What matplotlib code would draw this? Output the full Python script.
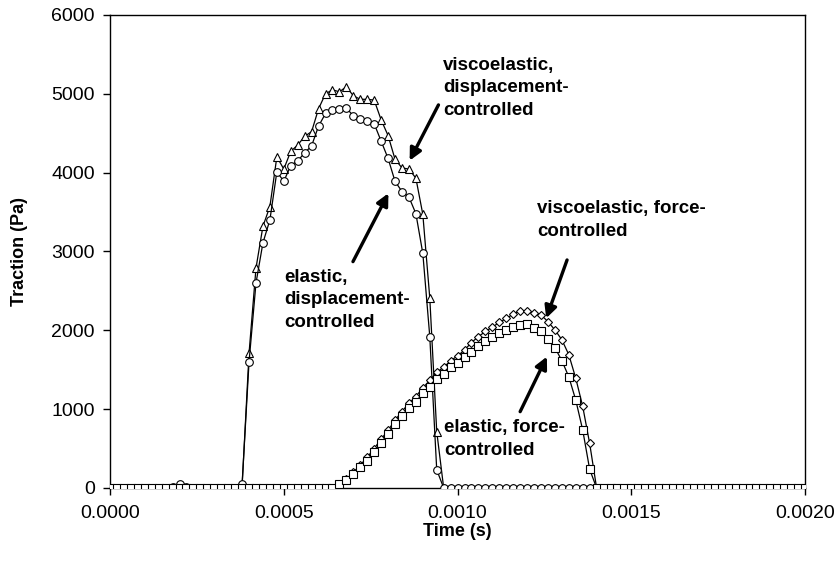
import numpy as np
import matplotlib
matplotlib.use("Agg")
import matplotlib.pyplot as plt
from matplotlib.ticker import FormatStrFormatter

plt.rcParams['font.family'] = ['Liberation Sans', 'DejaVu Sans']

# Tijdstappen van 0.00002 s (101 punten)
time = np.arange(101) * 0.00002

# elastic, displacement-controlled (cirkels)
elastic_disp = [0] * 9 + [15, 50, 15] + [0] * 7 + [
    50, 1600, 2600, 3110, 3400, 4010, 3890, 4090, 4150, 4250,
    4340, 4590, 4750, 4800, 4810, 4820, 4720, 4680, 4650, 4620,
    4400, 4180, 3890, 3760, 3690, 3480, 2975, 1920, 230] + [0] * 53

# viscoelastic, displacement-controlled (driehoeken)
visco_disp = [0] * 19 + [
    20, 1710, 2790, 3320, 3570, 4200, 4045, 4270, 4350, 4460,
    4520, 4810, 5000, 5050, 5025, 5090, 4975, 4930, 4930, 4920,
    4670, 4470, 4170, 4060, 4045, 3930, 3470, 2410, 715] + [0] * 53

# elastic, force-controlled (vierkanten)
elastic_force = [0] * 33 + [
    50, 100, 180, 260, 345, 460, 575, 685, 810, 915,
    1020, 1095, 1200, 1285, 1380, 1450, 1530, 1590, 1660, 1730,
    1795, 1860, 1920, 1970, 2005, 2040, 2070, 2075, 2035, 1985,
    1895, 1780, 1615, 1410, 1115, 735, 237] + [0] * 31

# viscoelastic, force-controlled (ruiten)
visco_force = [0] * 33 + [
    40, 110, 200, 290, 390, 500, 620, 730, 860, 970,
    1075, 1160, 1270, 1365, 1470, 1530, 1615, 1675, 1750, 1845,
    1920, 1985, 2040, 2100, 2150, 2205, 2250, 2250, 2225, 2195,
    2110, 2005, 1880, 1690, 1392, 1034, 565] + [0] * 31

fig = plt.figure(figsize=(8.36, 5.64), dpi=100)
ax = fig.add_axes([0.1316, 0.1348, 0.8315, 0.8387])

style = dict(color='black', lw=0.9, markerfacecolor='white',
             markeredgecolor='black', markeredgewidth=0.8)
ax.plot(time, visco_disp, marker='^', markersize=6, zorder=2, **style)
ax.plot(time, elastic_disp, marker='o', markersize=5.5, zorder=3, **style)
ax.plot(time, visco_force, marker='D', markersize=4.5, zorder=4, **style)
ax.plot(time, elastic_force, marker='s', markersize=5.5, zorder=5, **style)

ax.set_xlim(0, 0.002)
ax.set_ylim(0, 6000)
ax.set_xticks(np.arange(0, 0.00201, 0.0005))
ax.set_yticks(range(0, 6001, 1000))
ax.xaxis.set_major_formatter(FormatStrFormatter('%.4f'))
ax.tick_params(direction='out', length=5, width=1, labelsize=14)
ax.tick_params(axis='x', pad=7)
ax.tick_params(axis='y', pad=6)
for s in ax.spines.values():
    s.set_linewidth(1)

ax.set_xlabel('Time (s)', fontsize=13, fontweight='bold', labelpad=1)
ax.set_ylabel('Traction (Pa)', fontsize=13, fontweight='bold', labelpad=17)

# Tekstlabels met pijlen
txt = dict(fontsize=13.5, fontweight='bold', ha='left', va='center', linespacing=1.45)
ax.text(0.000959, 5074, 'viscoelastic,\ndisplacement-\ncontrolled', **txt)
ax.text(0.000501, 2385, 'elastic,\ndisplacement-\ncontrolled', **txt)
ax.text(0.001229, 3400, 'viscoelastic, force-\ncontrolled', **txt)
ax.text(0.000962, 622, 'elastic, force-\ncontrolled', **txt)

arrow = dict(arrowstyle='-|>', color='black', lw=2.4, mutation_scale=18, shrinkA=0, shrinkB=0)
ax.annotate('', xy=(0.000862, 4152), xytext=(0.000945, 4859), arrowprops=arrow)
ax.annotate('', xy=(0.000801, 3738), xytext=(0.000699, 2871), arrowprops=arrow)
ax.annotate('', xy=(0.001255, 2153), xytext=(0.001315, 2892), arrowprops=arrow)
ax.annotate('', xy=(0.001257, 1666), xytext=(0.00118, 968), arrowprops=arrow)

plt.savefig('out.png', dpi=100)
